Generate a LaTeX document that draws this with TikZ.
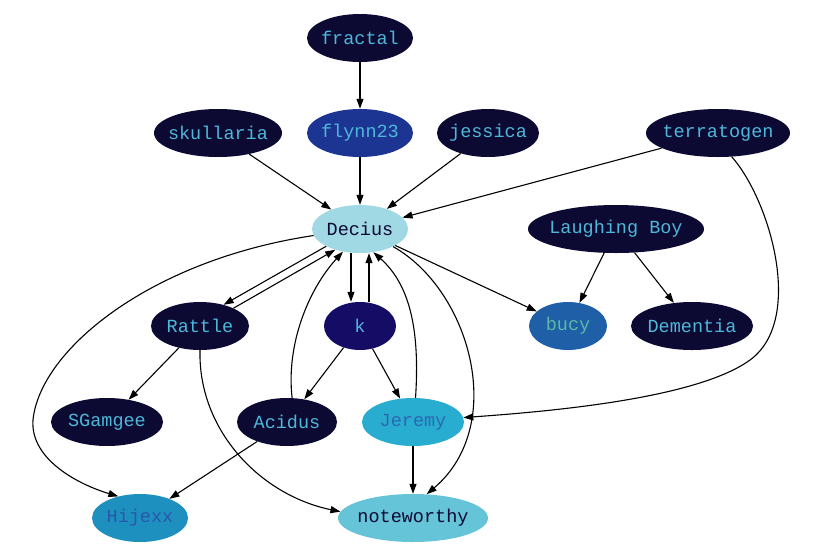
\documentclass[tikz,border=0pt]{standalone}
\usepackage{fontspec}
\newfontfamily\gvmono{Liberation Mono}
\usetikzlibrary{shapes.geometric,arrows.meta}
\definecolor{dk}{HTML}{0C0933}
\definecolor{cy}{HTML}{4DB8D8}
\definecolor{flynn}{HTML}{1C3492}
\definecolor{decius}{HTML}{A0D8E4}
\definecolor{kfill}{HTML}{150C66}
\definecolor{bucyf}{HTML}{1E5FA8}
\definecolor{bucyt}{HTML}{5CB8A4}
\definecolor{jerf}{HTML}{28ACD0}
\definecolor{jert}{HTML}{2A6AB2}
\definecolor{hijf}{HTML}{1E90C0}
\definecolor{hijt}{HTML}{2858A8}
\definecolor{notef}{HTML}{66C4D8}
\tikzset{
  gv/.style={ellipse, inner xsep=-30pt, inner ysep=0pt, minimum height=48pt, draw=none,
    font=\gvmono\fontsize{18.5}{18.5}\selectfont},
  darknode/.style={gv, fill=dk, text=cy},
  edge/.style={line width=1.1pt, -{Triangle[length=10pt,width=7pt]}},
}
\begin{document}
\begin{tikzpicture}[x=1pt,y=-1pt]
\useasboundingbox (0,0) rectangle (813,552);
\node[darknode, minimum width=106pt] (fractal) at (360,38) {fractal};
\node[gv, fill=flynn, text=cy, minimum width=106pt] (flynn) at (360,133) {flynn23};
\node[darknode, minimum width=128pt] (skullaria) at (218,133) {skullaria};
\node[darknode, minimum width=102pt] (jessica) at (488,133) {jessica};
\node[darknode, minimum width=144pt] (terratogen) at (718,133) {terratogen};
\node[gv, fill=decius, text=dk, minimum width=96pt] (Decius) at (360,229) {Decius};
\node[darknode, minimum width=176pt] (LB) at (616,229) {Laughing Boy};
\node[darknode, minimum width=98pt] (Rattle) at (200,326) {Rattle};
\node[gv, fill=kfill, text=cy, minimum width=72pt] (k) at (360,326) {k};
\node[gv, fill=bucyf, text=bucyt, minimum width=78pt] (bucy) at (568,326) {bucy};
\node[darknode, minimum width=122pt] (Dementia) at (692,326) {Dementia};
\node[darknode, minimum width=112pt] (SGamgee) at (107,422) {SGamgee};
\node[darknode, minimum width=100pt] (Acidus) at (287,422) {Acidus};
\node[gv, fill=jerf, text=jert, minimum width=102pt] (Jeremy) at (413,422) {Jeremy};
\node[gv, fill=hijf, text=hijt, minimum width=96pt] (Hijexx) at (140,518) {Hijexx};
\node[gv, fill=notef, text=dk, minimum width=150pt] (noteworthy) at (413,518) {noteworthy};

\draw[edge] (fractal) -- (flynn);
\draw[edge] (flynn) -- (Decius);
\draw[edge] (skullaria) -- (Decius);
\draw[edge] (jessica) -- (Decius);
\draw[edge] (terratogen) -- (Decius);
\draw[edge] (LB) -- (bucy);
\draw[edge] (LB) -- (Dementia);
\draw[edge] (Decius) -- (bucy);
\draw[edge] (Decius.207) -- (Rattle.42);
\draw[edge] (Rattle.28) -- (Decius.220);
\draw[edge] ([xshift=-9pt]Decius.south) -- ([xshift=-9pt]k.north);
\draw[edge] ([xshift=9pt]k.north) -- ([xshift=9pt]Decius.south);
\draw[edge] (Rattle) -- (SGamgee);
\draw[edge] (k) -- (Acidus);
\draw[edge] (k) -- (Jeremy);
\draw[edge] (Acidus) -- (Hijexx);
\draw[edge] (Jeremy) -- (noteworthy);
\draw[edge] (Acidus.78) .. controls (286,345) and (308,290) .. (Decius.233);
\draw[edge] (Jeremy.84) .. controls (420,330) and (410,285) .. (Decius.-60);
\draw[edge] (Decius.-28) .. controls (470,290) and (508,425) .. (noteworthy.60);
\draw[edge] (Decius.188) .. controls (150,260) and (40,350) .. (33,420)
  .. controls (30,460) and (80,485) .. (Hijexx.135);
\draw[edge] (Rattle.-90) .. controls (198,430) and (260,495) .. (noteworthy.175);
\draw[edge] (terratogen.-60) .. controls (770,200) and (805,320) .. (750,360)
  .. controls (695,400) and (540,412) .. (Jeremy.5);
\end{tikzpicture}
\end{document}
